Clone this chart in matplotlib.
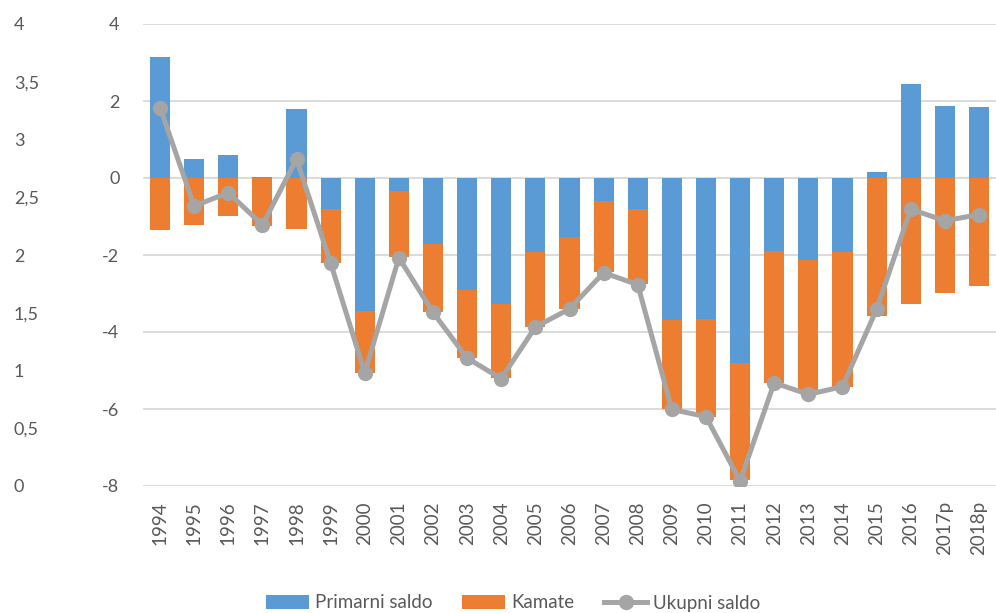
import numpy as np
import matplotlib
matplotlib.use('Agg')
import matplotlib.pyplot as plt
from matplotlib.ticker import FuncFormatter

plt.rcParams['font.family'] = ['Lato', 'DejaVu Sans']
plt.rcParams['axes.unicode_minus'] = False

years = ['1994', '1995', '1996', '1997', '1998', '1999', '2000', '2001', '2002', '2003',
         '2004', '2005', '2006', '2007', '2008', '2009', '2010', '2011', '2012', '2013',
         '2014', '2015', '2016', '2017p', '2018p']
primarni = [3.15, 0.49, 0.59, 0.03, 1.78, -0.81, -3.45, -0.34, -1.72, -2.91,
            -3.28, -1.91, -1.52, -0.59, -0.81, -3.69, -3.66, -4.81, -1.89, -2.13,
            -1.93, 0.16, 2.44, 1.86, 1.84]
kamate = [-1.35, -1.22, -0.98, -1.25, -1.32, -1.41, -1.61, -1.71, -1.76, -1.77,
          -1.92, -1.95, -1.88, -1.86, -1.94, -2.32, -2.54, -3.03, -3.43, -3.38,
          -3.49, -3.58, -3.26, -2.98, -2.80]
ukupni = [1.83, -0.73, -0.38, -1.22, 0.49, -2.21, -5.06, -2.07, -3.49, -4.68,
          -5.21, -3.87, -3.40, -2.46, -2.77, -6.01, -6.20, -7.87, -5.32, -5.62,
          -5.42, -3.41, -0.81, -1.11, -0.95]

blue = '#5B9BD5'
orange = '#ED7D31'
grey = '#A5A5A5'
txt = '#595959'

fig = plt.figure(figsize=(9.96, 6.13), dpi=100)
ax = fig.add_axes([143/996, 1-486/613, 1-143/996, (486-24)/613])

x = np.arange(len(years))
w = 0.59
kam_bottom = np.minimum(np.array(primarni), 0)
b1 = ax.bar(x, primarni, w, color=blue, label='Primarni saldo', zorder=2)
b2 = ax.bar(x, kamate, w, bottom=kam_bottom, color=orange, label='Kamate', zorder=2)
l1, = ax.plot(x, ukupni, color=grey, lw=3.6, marker='o', ms=10, label='Ukupni saldo', zorder=3)

ax.set_xlim(-0.5, len(years)-0.5)
ax.set_ylim(-8, 4)
ax.set_yticks(np.arange(-8, 5, 2))
ax.yaxis.grid(True, color='#D9D9D9', lw=1.3, zorder=0)
ax.set_axisbelow(True)
for s in ax.spines.values():
    s.set_visible(False)
ax.tick_params(axis='y', length=0, pad=17, labelsize=13, labelcolor=txt)
ax.set_xticks(x)
ax.set_xticklabels(years, rotation=90)
ax.tick_params(axis='x', length=0, pad=11, labelsize=13.5, labelcolor=txt)

ax2 = ax.twinx()
ax2.set_ylim(0, 4)
ax2.set_yticks(np.arange(0, 4.01, 0.5))
ax2.yaxis.set_major_formatter(FuncFormatter(lambda v, p: ('%g' % v).replace('.', ',')))
ax2.yaxis.tick_left()
ax2.tick_params(axis='y', length=0, pad=93, labelsize=13, labelcolor=txt)
for lbl in ax2.get_yticklabels():
    lbl.set_horizontalalignment('left')
for s in ax2.spines.values():
    s.set_visible(False)

fig.legend([b1, b2, l1], ['Primarni saldo', 'Kamate', 'Ukupni saldo'], loc='center',
           bbox_to_anchor=(513/996, 1-603/613), ncol=3, frameon=False,
           fontsize=13.5, labelcolor=txt, handlelength=2.3, handletextpad=0.3, columnspacing=1.6)

fig.savefig('out.png', dpi=100)
